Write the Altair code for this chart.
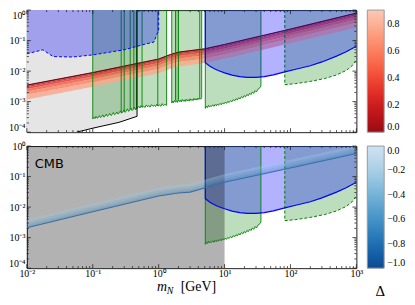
import altair as alt
import pandas as pd

W, H = 332, 123
XDOM = [0.01, 1000]
YDOM = [1e-4, 1]
SERIF = "Liberation Serif"
GREEN = "#008000"
BLUE = "#0000ff"

# ---------------- axes ----------------
x_major = [0.01, 0.1, 1, 10, 100, 1000]
x_labels = ["10⁻²", "10⁻¹", "10⁰", "10¹", "10²", "10³"]
y_major = [1e-4, 1e-3, 1e-2, 1e-1, 1]
y_labels = ["10⁻⁴", "10⁻³", "10⁻²", "10⁻¹", "10⁰"]
x_minor = [m * d for d in x_major[:-1] for m in range(2, 10)]
y_minor = [m * d for d in y_major[:-1] for m in range(2, 10)]
red_ticks = [0.0, 0.2, 0.4, 0.6, 0.8]
blue_ticks = [0.0, -0.2, -0.4, -0.6, -0.8, -1.0]

# ---------------- data ----------------
# light-grey excluded region (top panel)
gray_x = [0.01, 0.057, 0.1, 0.25, 0.47]
gray_low = [1e-4, 1e-4, 1.35e-4, 2.1e-4, 3.3e-4]

# dashed blue region (top panel)
bd_x = [0.01, 0.0175, 0.025, 0.05, 0.1, 0.3, 0.6, 0.85, 0.95, 1.0]
bd_low = [0.037, 0.05, 0.030, 0.029, 0.034, 0.05, 0.075, 0.09, 0.17, 0.2]

# solid blue region
bs_x = [5.1, 6, 7, 8, 10, 13, 17, 22, 30, 40, 55, 82, 120, 200, 300, 500, 700, 1000]
bs_low = [0.019, 0.0145, 0.012, 0.0105, 0.0088, 0.0074, 0.0066, 0.0062, 0.0062, 0.0066,
          0.0075, 0.0094, 0.0115, 0.015, 0.02, 0.031, 0.043, 0.065]

# green regions (lower edges, units of 1e-4)
gA_x = [0.100, 0.104, 0.108, 0.112, 0.116, 0.121, 0.126, 0.131, 0.136, 0.142, 0.148, 0.154,
        0.160, 0.167, 0.174, 0.181, 0.189, 0.197, 0.205, 0.214, 0.223, 0.232, 0.242, 0.252,
        0.263, 0.274, 0.285, 0.297, 0.31, 0.323, 0.336, 0.35, 0.365, 0.38, 0.396, 0.413,
        0.43, 0.448, 0.466, 0.48, 0.5, 0.52, 0.54, 0.56, 0.59, 0.62, 0.65, 0.68, 0.71, 0.74,
        0.78, 0.82, 0.86, 0.9, 0.94, 0.98, 1.03, 1.08, 1.13, 1.18, 1.24, 1.32]
gA_low = [2.7, 3.1, 2.8, 3.3, 2.9, 3.0, 3.5, 3.0, 3.2, 3.7, 3.1, 3.4,
          3.9, 3.3, 3.6, 4.1, 3.5, 3.8, 4.4, 3.7, 4.0, 4.6, 3.9, 4.3,
          5.0, 4.2, 4.6, 5.4, 4.5, 4.9, 5.8, 4.8, 5.3, 6.2, 5.1, 5.6,
          6.6, 5.4, 6.0, 6.3, 7.0, 6.2, 7.4, 6.5, 7.2, 6.4, 7.8, 6.8, 7.5, 6.6,
          8.0, 7.0, 7.7, 6.9, 8.3, 7.2, 7.9, 7.0, 8.6, 7.4, 8.1, 7.6]
gB_x = [1.58, 1.63, 1.68, 1.74, 1.8, 1.86, 1.92, 1.99, 2.06, 2.13, 2.2, 2.28, 2.36, 2.44,
        2.52, 2.61, 2.7, 2.8, 2.9, 3.0, 3.1, 3.21, 3.32, 3.44, 3.56, 3.68, 3.81, 3.94,
        4.08, 4.22, 4.36, 4.5]
gB_low = [9.0, 10.5, 9.2, 11.0, 9.6, 10.8, 9.4, 11.5, 10.0, 11.2, 9.8, 11.8, 10.3, 11.4,
          10.1, 12.0, 10.6, 11.7, 10.4, 12.4, 10.9, 12.0, 10.8, 12.8, 11.3, 12.5, 11.2, 13.2,
          11.8, 13.0, 12.0, 13.5]
gC_x = [5.1, 5.3, 5.5, 5.7, 5.9, 6.1, 6.3, 6.6, 6.9, 7.2, 7.5, 7.8, 8.1, 8.5, 8.9, 9.3,
        9.7, 10.2, 10.7, 11.2, 11.7, 12.3, 12.9, 13.5, 14.2, 14.9, 15.6, 16.4, 17.2, 18.0,
        18.9, 19.8, 20.8, 21.8, 22.9, 24.0, 25.2, 26.4, 27.7, 29.1, 30.5, 32.0, 33.6, 35.6]
gC_low = [6.0, 7.2, 6.4, 7.6, 6.7, 7.3, 6.9, 7.9, 7.0, 8.1, 7.3, 8.4, 7.6, 8.8, 7.9, 9.2,
          8.3, 9.6, 8.8, 10.2, 9.3, 10.8, 9.9, 11.6, 10.6, 12.5, 11.4, 13.4, 12.3, 14.6,
          13.2, 15.8, 14.3, 17.2, 15.6, 18.9, 17.0, 20.8, 18.6, 23.0, 20.6, 25.5, 27.0, 33.0]
gN_x = [1.8, 2.0]          # narrow overlapping band
gN_low = [11.0, 11.5]
gv_x = [0.1, 0.27, 0.30, 0.37, 0.42, 0.46, 0.56, 0.97, 1.32, 1.58, 1.8, 2.0, 4.2, 4.5]
gv_low = [2.7, 4.2, 4.5, 5.6, 5.6, 5.8, 6.5, 7.2, 7.6, 9.0, 11.0, 11.5, 13.0, 13.5]
gcv_x = [5.1, 35.6]
gcv_low = [6.0, 33.0]

# dashed green region
gd_x = [82, 120, 200, 330, 500, 700, 850, 1000]
gd_low = [3.6e-3, 3.9e-3, 4.6e-3, 5.7e-3, 7.5e-3, 1.05e-2, 1.45e-2, 2.3e-2]

# red band (top panel): upper edge and layer drops (decades) per Delta
red_x = [0.01, 0.1, 1, 1.5, 2, 3, 5, 10, 100, 1000]
red_top = [3.5e-3, 9e-3, 0.025, 0.035, 0.042, 0.047, 0.054, 0.075, 0.24, 0.8]
red_delta = [0.0, 0.15, 0.3, 0.45, 0.6, 0.75]
red_drop = [0.0, 0.03, 0.07, 0.13, 0.21, 0.32, 0.47]

# blue band (bottom panel): lower edge and layer rises (decades) per Delta
blue_x = [0.01, 0.1, 1, 2, 3, 5, 10, 100, 1000]
blue_base = [2.1e-3, 7e-3, 0.023, 0.029, 0.031, 0.042, 0.065, 0.19, 0.57]
blue_delta = [-0.7, -0.55, -0.4, -0.25]
blue_rise = [0.0, 0.06, 0.12, 0.19, 0.27]

# ---------------- helpers ----------------
xscale = alt.Scale(type="log", domain=XDOM, nice=False)
yscale = alt.Scale(type="log", domain=YDOM, nice=False)


def lexpr(vals, labels):
    return " : ".join(f"datum.value < {v * 1.5} ? '{l}'" for v, l in zip(vals, labels)) + " : ''"


axis_x_bot = alt.Axis(values=x_major, labelExpr=lexpr(x_major, x_labels), ticks=False,
                      domain=False, grid=False, labelFont=SERIF, labelFontSize=10,
                      labelPadding=0, labelFlush=False, labelColor="black")


def axis_y(flush, lift_bottom=False):
    kw = dict(values=y_major, labelExpr=lexpr(y_major, y_labels), ticks=False,
              domain=False, grid=False, labelFont=SERIF, labelFontSize=10,
              labelPadding=2, labelFlush=flush, labelColor="black")
    if lift_bottom:
        kw["labelBaseline"] = {"condition": {"test": "datum.value < 0.00015",
                                             "value": "bottom"}, "value": "middle"}
    return alt.Axis(**kw)


def enc(xaxis, yaxis):
    def X(f="x"):
        return alt.X(f"{f}:Q", scale=xscale, axis=xaxis, title=None)

    def Y(f="y"):
        return alt.Y(f"{f}:Q", scale=yscale, axis=yaxis, title=None)
    return X, Y


def region(X, Y, xs, lows, color, opacity):
    df = pd.DataFrame({"x": xs, "y": lows, "y2": [1.0] * len(xs)})
    return alt.Chart(df).mark_area(color=color, opacity=opacity, clip=True).encode(
        x=X(), y=Y(), y2="y2:Q")


def path(X, Y, xs, ys, color, width=1.0, dash=None):
    df = pd.DataFrame({"x": xs, "y": ys, "o": list(range(len(xs)))})
    kw = dict(color=color, strokeWidth=width, clip=True)
    if dash:
        kw["strokeDash"] = dash
    return alt.Chart(df).mark_line(**kw).encode(x=X(), y=Y(), order="o:Q")


def vlines(X, Y, xs, lows, color, width=0.9, dash=None):
    df = pd.DataFrame({"x": xs, "y": lows, "y2": [1.0] * len(xs)})
    kw = dict(color=color, strokeWidth=width)
    if dash:
        kw["strokeDash"] = dash
    return alt.Chart(df).mark_rule(**kw).encode(x=X(), y=Y(), y2="y2:Q")


def ticks(X, Y):
    out = []
    for vals, ln in ((x_major, 4), (x_minor, 2)):
        df = pd.DataFrame({"x": vals})
        out.append(alt.Chart(df).mark_rule(color="#222", strokeWidth=0.8).encode(
            x=X(), y=alt.value(H), y2=alt.value(H - ln)))
        out.append(alt.Chart(df).mark_rule(color="#222", strokeWidth=0.8).encode(
            x=X(), y=alt.value(0), y2=alt.value(ln)))
    for vals, ln in ((y_major, 4), (y_minor, 2)):
        df = pd.DataFrame({"y": vals})
        out.append(alt.Chart(df).mark_rule(color="#222", strokeWidth=0.8).encode(
            y=Y(), x=alt.value(0), x2=alt.value(ln)))
        out.append(alt.Chart(df).mark_rule(color="#222", strokeWidth=0.8).encode(
            y=Y(), x=alt.value(W), x2=alt.value(W - ln)))
    return out


def scaled(vals, k=1e-4):
    return [v * k for v in vals]


def cbar_legend(ticks_):
    return alt.Legend(orient="none", legendX=343, legendY=0, direction="vertical",
                      gradientLength=H, gradientThickness=17, values=ticks_,
                      format=".1f", labelFont=SERIF, labelFontSize=10,
                      labelColor="black", labelOffset=3,
                      gradientStrokeColor="#999", gradientStrokeWidth=1)


# ---------------- top panel ----------------
X, Y = enc(None, axis_y(True))

red_rows = []
for i, d in enumerate(red_delta):
    for x, t in zip(red_x, red_top):
        red_rows.append({"x": x, "y": t * 10 ** (-red_drop[i]),
                         "y2": t * 10 ** (-red_drop[i + 1]), "dr": d, "i": i})
red_df = pd.DataFrame(red_rows)
red_scale = alt.Scale(scheme="reds", reverse=True, domain=[0, 0.9])
red_band = alt.Chart(red_df).mark_area(fillOpacity=0.8, clip=True).encode(
    x=X(), y=Y(), y2="y2:Q", detail="i:N",
    color=alt.Color("dr:Q", title="", scale=red_scale, legend=cbar_legend(red_ticks)))

top_layers = [
    region(X, Y, gray_x, gray_low, "#e5e5e5", 1.0),
    region(X, Y, gA_x, scaled(gA_low), GREEN, 0.26),
    region(X, Y, gB_x, scaled(gB_low), GREEN, 0.26),
    region(X, Y, gN_x, scaled(gN_low), GREEN, 0.26),
    region(X, Y, gC_x, scaled(gC_low), GREEN, 0.26),
    region(X, Y, gd_x, gd_low, GREEN, 0.26),
    red_band,
    path(X, Y, red_x, red_top, "#67000d", 1.0),
    path(X, Y, gA_x, scaled(gA_low), GREEN, 0.9),
    path(X, Y, gB_x, scaled(gB_low), GREEN, 0.9),
    path(X, Y, gC_x, scaled(gC_low), GREEN, 0.9),
    vlines(X, Y, gv_x, scaled(gv_low), GREEN),
    vlines(X, Y, gcv_x, scaled(gcv_low), GREEN),
    path(X, Y, [gd_x[0]] + gd_x, [1.0] + gd_low, GREEN, 1.0, [3, 2]),
    region(X, Y, bs_x, bs_low, BLUE, 0.3),
    region(X, Y, bd_x, bd_low, BLUE, 0.3),
    path(X, Y, [bs_x[0]] + bs_x, [1.0] + bs_low, BLUE, 1.2),
    path(X, Y, bd_x + [bd_x[-1]], bd_low + [1.0], BLUE, 1.0, [3, 2]),
    path(X, Y, gray_x[1:] + [gray_x[-1]], gray_low[1:] + [1.0], "black", 1.0),
] + ticks(X, Y)

top = alt.layer(*top_layers).properties(width=W, height=H)

# ---------------- bottom panel ----------------
X, Y = enc(axis_x_bot, axis_y(False, lift_bottom=True))

blue_rows = []
for i, d in enumerate(blue_delta):
    for x, b in zip(blue_x, blue_base):
        blue_rows.append({"x": x, "y": b * 10 ** blue_rise[i],
                          "y2": b * 10 ** blue_rise[i + 1], "db": d, "i": i})
blue_df = pd.DataFrame(blue_rows)
blue_scale = alt.Scale(scheme="blues", reverse=True, domain=[-1, 0])
blue_band = alt.Chart(blue_df).mark_area(fillOpacity=0.35, clip=True).encode(
    x=X(), y=Y(), y2="y2:Q", detail="i:N",
    color=alt.Color("db:Q", title="", scale=blue_scale, legend=cbar_legend(blue_ticks)))

cmb_df = pd.DataFrame({"x": [0.01], "x2": [10], "y": [1e-4], "y2": [1.0]})
cmb = alt.Chart(cmb_df).mark_rect(color="black", opacity=0.3).encode(
    x=X(), x2="x2:Q", y=Y(), y2="y2:Q")


def label(txt, x, y, size, font=SERIF, style="normal", align="left"):
    return alt.Chart(pd.DataFrame({"t": [txt]})).mark_text(
        font=font, fontSize=size, fontStyle=style, align=align, baseline="alphabetic",
        color="black").encode(text="t:N", x=alt.value(x), y=alt.value(y))


bottom_layers = [
    region(X, Y, gC_x, scaled(gC_low), GREEN, 0.26),
    region(X, Y, gd_x, gd_low, GREEN, 0.26),
    region(X, Y, bs_x, bs_low, BLUE, 0.3),
    cmb,
    path(X, Y, gC_x, scaled(gC_low), GREEN, 0.9),
    vlines(X, Y, gcv_x, scaled(gcv_low), GREEN),
    path(X, Y, [gd_x[0]] + gd_x, [1.0] + gd_low, GREEN, 1.0, [3, 2]),
    path(X, Y, [bs_x[0]] + bs_x, [1.0] + bs_low, BLUE, 1.2),
    blue_band,
    path(X, Y, blue_x, blue_base, "#3a70a8", 1.1),
    alt.Chart(pd.DataFrame({"t": ["CMB"]})).mark_text(
        font="DejaVu Sans", fontSize=13, align="left", baseline="middle",
        color="black").encode(text="t:N", x=alt.value(8), y=alt.value(18)),
    label("m", 131, 146, 14, style="italic"),
    label("N", 141, 149, 10, style="italic"),
    label("[GeV]", 155, 146, 14),
    label("Δ", 356, 151, 15, align="center"),
] + ticks(X, Y)

bottom = alt.layer(*bottom_layers).properties(width=W, height=H)

chart = alt.vconcat(top, bottom, spacing=14, bounds="flush").resolve_scale(
    color="independent").configure_view(stroke="#222", strokeWidth=1).properties(padding=0)

chart.save("out.html", embed_options={"renderer": "svg", "actions": False})
